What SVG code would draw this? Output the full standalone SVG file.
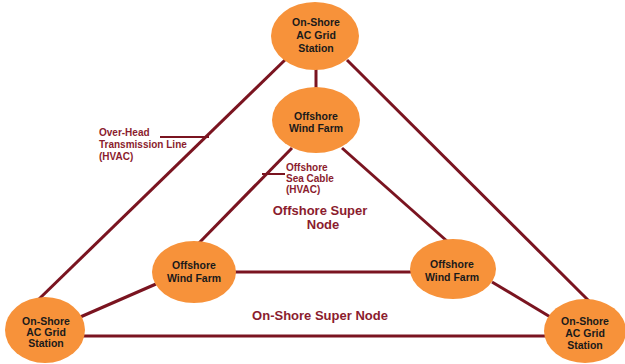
<svg xmlns="http://www.w3.org/2000/svg" width="625" height="364" viewBox="0 0 625 364">
<style>
.n{fill:#f7923a;stroke:none}
.t{font-family:"Liberation Sans",Arial,sans-serif;font-weight:bold;font-size:10.5px;fill:#1a1a1a;text-anchor:middle}
.l{font-family:"Liberation Sans",Arial,sans-serif;font-weight:bold;font-size:10px;fill:#8b1c2e}
.b{font-family:"Liberation Sans",Arial,sans-serif;font-weight:bold;font-size:13px;fill:#8b1c2e;text-anchor:middle}
.c{stroke:#7a1420;stroke-width:3;fill:none}
.k{stroke:#7a1420;stroke-width:2;fill:none}
</style>
<rect width="625" height="364" fill="#ffffff"/>
<g id="connectors">
<line class="c" x1="287" y1="58" x2="38" y2="300"/>
<line class="c" x1="347" y1="60" x2="590" y2="302"/>
<line class="c" x1="316" y1="68" x2="316" y2="90"/>
<line class="c" x1="292" y1="148" x2="198" y2="244"/>
<line class="c" x1="342" y1="148" x2="448" y2="242"/>
<line class="c" x1="234" y1="272" x2="412" y2="272"/>
<line class="c" x1="156" y1="284" x2="78" y2="318"/>
<line class="c" x1="492" y1="282" x2="552" y2="318"/>
<line class="c" x1="82" y1="336" x2="548" y2="336"/>
<line class="k" x1="160" y1="137" x2="209" y2="137"/>
<line class="k" x1="262" y1="174" x2="285" y2="174"/>
</g>
<g id="station-top">
<ellipse class="n" cx="315" cy="36" rx="44" ry="34"/>
<text class="t" x="316" y="26">On-Shore</text>
<text class="t" x="316" y="39">AC Grid</text>
<text class="t" x="316" y="52">Station</text>
</g>
<g id="windfarm-top">
<ellipse class="n" cx="316" cy="120" rx="44" ry="33"/>
<text class="t" x="316" y="120">Offshore</text>
<text class="t" x="316" y="132">Wind Farm</text>
</g>
<g id="windfarm-left">
<ellipse class="n" cx="194" cy="272" rx="42" ry="31"/>
<text class="t" x="194" y="269">Offshore</text>
<text class="t" x="194" y="282">Wind Farm</text>
</g>
<g id="windfarm-right">
<ellipse class="n" cx="453" cy="269" rx="43" ry="30"/>
<text class="t" x="452" y="268">Offshore</text>
<text class="t" x="452" y="281">Wind Farm</text>
</g>
<g id="station-left">
<ellipse class="n" cx="45" cy="330" rx="40" ry="33"/>
<text class="t" x="46" y="325">On-Shore</text>
<text class="t" x="46" y="336">AC Grid</text>
<text class="t" x="46" y="347">Station</text>
</g>
<g id="station-right">
<ellipse class="n" cx="585" cy="331" rx="41" ry="32"/>
<text class="t" x="585" y="325">On-Shore</text>
<text class="t" x="585" y="337">AC Grid</text>
<text class="t" x="585" y="349">Station</text>
</g>
<g id="labels">
<text class="l" x="99" y="136">Over-Head</text>
<text class="l" x="99" y="148">Transmission Line</text>
<text class="l" x="99" y="160">(HVAC)</text>
<text class="l" x="286" y="171">Offshore</text>
<text class="l" x="286" y="182">Sea Cable</text>
<text class="l" x="286" y="193">(HVAC)</text>
<text class="b" x="320" y="215">Offshore Super</text>
<text class="b" x="323" y="229">Node</text>
<text class="b" x="320" y="320">On-Shore Super Node</text>
</g>
</svg>
